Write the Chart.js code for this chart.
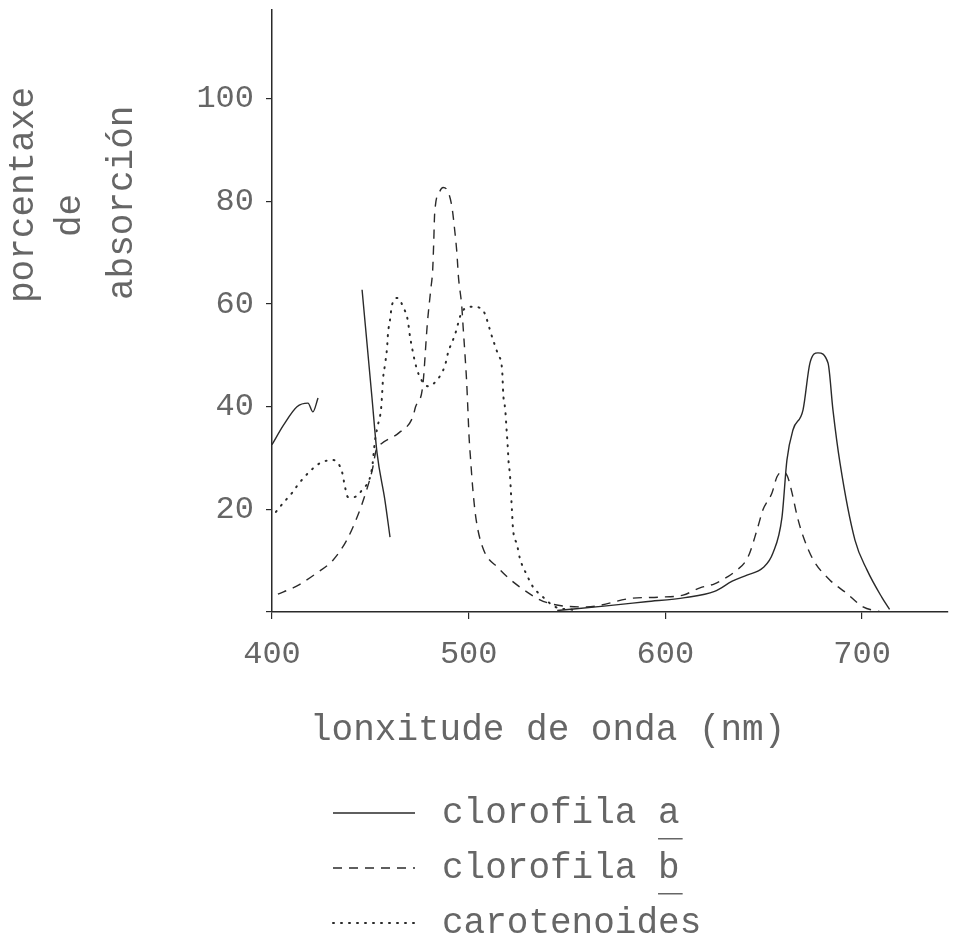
<!DOCTYPE html>
<html>
<head>
<meta charset="utf-8">
<script src="https://cdn.jsdelivr.net/npm/chart.js@4/dist/chart.umd.min.js"></script>
<style>
  html, body { margin: 0; padding: 0; background: #fff; }
  #wrap { width: 958px; height: 941px; }
</style>
</head>
<body>
<div id="wrap"><canvas id="c" width="958" height="941"></canvas></div>
<script>
// ---- data ----
const xTickValues = [400, 500, 600, 700];
const yTickValues = [0, 20, 40, 60, 80, 100];

const seriesLabels = ['clorofila a', 'clorofila b', 'carotenoides'];

const chlA_nm  = [400, 406, 412.7, 418.3, 420.8, 423.4, 435, 445.8, 450.8, 453.4, 457.4, 460, 470,
                  545, 570, 590, 610, 625, 634, 641.5, 649.6, 654.7, 659.3, 661.8, 664.9, 670, 673.5,
                  677.6, 682.7, 685.2, 688.8, 696.4, 702.5, 710, 714];
const chlA_abs = [32.6, 36.5, 40, 40.7, 39, 41.7, null, 62.8, 41.9, 31, 21.8, 14.6, null,
                  0.3, 1.2, 2, 2.8, 4, 6, 7.2, 8.6, 11.5, 18.5, 29.6, 35.5, 39.4, 48.5,
                  50.5, 48.5, 39.4, 29, 14, 8.2, 2.9, 0.5];

const chlB_nm  = [403, 410.7, 413.7, 422, 431, 438, 443.7, 447.8, 451, 453, 455, 464.5, 471.6, 473,
                  476.6, 479, 480.7, 481.7, 482.2, 482.7, 485, 487, 489.5, 491.5, 493, 494, 494.8,
                  496.5, 497.2, 498.2, 499, 499.6, 500.2, 501, 502, 503.6, 507, 515, 526.6, 540,
                  560, 583.5, 597, 609, 617.6, 625, 631.3, 634.4, 642, 646.6, 649.6, 654.2, 656.7,
                  659.3, 662, 664.4, 667, 670, 675, 683.7, 692, 700.5, 710];
const chlB_abs = [3.5, 4.7, 5.3, 7.4, 10.1, 14, 18.9, 23.4, 27.7, 31.6, 32.6, 34.9, 38, 40,
                  43.9, 56.3, 62.8, 66.7, 71.7, 77.6, 81.7, 82.7, 81.9, 78.9, 74, 70, 65.3,
                  59.5, 55.4, 49.7, 44.6, 39.4, 34.1, 29.6, 24.4, 18.5, 12.7, 8.6, 4.7, 1.8,
                  1, 2.7, 2.9, 3.3, 4.7, 5.5, 6.8, 7.6, 10.7, 16, 19.9, 23.2, 26.3,
                  27.3, 26.5, 23.2, 18.7, 14.8, 10.3, 6.2, 3.7, 1, 0];

const car_nm  = [402, 405.6, 410.2, 414.2, 424.4, 431, 435.6, 437.1, 438.6, 441.7, 445.8, 450.8,
                 452.4, 453.9, 455.4, 455.9, 456.4, 457.4, 458.5, 459, 460, 461, 464, 466.6, 469,
                 470.2, 471.2, 472.7, 474.7, 479.3, 483.9, 488, 489.5, 493, 496.6, 501.7, 506.8,
                 512.4, 515, 517, 517.6, 518.6, 519.2, 519.8, 520.3, 521, 521.5, 522, 522.5,
                 524.6, 526, 529.6, 532.7, 537.8, 544, 554];
const car_abs = [19.5, 21.2, 23.2, 25.3, 29, 29.6, 27.3, 24.4, 22.4, 22.4, 23.8, 27.9,
                 33.5, 36.5, 39.4, 41.9, 45.2, 48.1, 51.5, 54.4, 56.9, 59.8, 61.2, 59.5, 56.9,
                 53.6, 51.5, 48.7, 46.2, 44, 45.2, 48.1, 50.5, 54, 58.5, 59.5, 59,
                 53, 50.1, 47.2, 42.3, 39.4, 35.9, 32.6, 29.2, 26.7, 23.2, 19.9, 16.4,
                 13.1, 10.5, 7.2, 4.9, 2.9, 1, 0.4];

const yTitleLines = ['porcentaxe', 'de', 'absorción'];
const xTitleText = 'lonxitude de onda (nm)';

// ---- build ----
const toPts = (xs, ys) => xs.map((x, i) => ({ x: x, y: ys[i] }));
const INK = '#2a2a2a';
const TXT = '#666666';
const MONO = '"Liberation Mono", "DejaVu Sans Mono", monospace';

const textPlugin = {
  id: 'typewriterText',
  afterDraw(chart) {
    const ctx = chart.ctx;
    ctx.save();
    ctx.fillStyle = TXT;
    ctx.font = '36px ' + MONO;
    ctx.textAlign = 'left';
    ctx.textBaseline = 'alphabetic';

    // rotated y title (three typed lines)
    const cols = [{ x: 33, y: 303 }, { x: 80, y: 237 }, { x: 132, y: 300 }];
    yTitleLines.forEach((t, i) => {
      ctx.save();
      ctx.translate(cols[i].x, cols[i].y);
      ctx.rotate(-Math.PI / 2);
      ctx.fillText(t, 0, 0);
      ctx.restore();
    });

    // x title
    ctx.fillText(xTitleText, 310, 740);

    // legend
    const rows = [813, 868, 923];
    chart.data.datasets.forEach((ds, i) => {
      const y = rows[i];
      ctx.save();
      ctx.strokeStyle = INK;
      ctx.lineWidth = i === 2 ? 2 : 1.4;
      ctx.lineCap = i === 2 ? 'round' : 'butt';
      ctx.setLineDash(ds.borderDash || []);
      ctx.beginPath();
      ctx.moveTo(333, y);
      ctx.lineTo(415, y);
      ctx.stroke();
      ctx.restore();
      ctx.fillText(ds.label, 442, y + 10);
      if (i < 2) {
        const cw = ctx.measureText('c').width;
        const ux = 442 + cw * 10;
        ctx.fillRect(ux, y + 25, cw + 3, 1.5);
      }
    });
    ctx.restore();
  }
};

new Chart(document.getElementById('c'), {
  type: 'line',
  data: {
    datasets: [
      { label: seriesLabels[0], data: toPts(chlA_nm, chlA_abs), borderColor: INK, borderWidth: 1.4,
        borderDash: [], pointRadius: 0, spanGaps: false, cubicInterpolationMode: 'monotone', fill: false },
      { label: seriesLabels[1], data: toPts(chlB_nm, chlB_abs), borderColor: INK, borderWidth: 1.4,
        borderDash: [9, 7], pointRadius: 0, spanGaps: false, cubicInterpolationMode: 'monotone', fill: false },
      { label: seriesLabels[2], data: toPts(car_nm, car_abs), borderColor: INK, borderWidth: 2,
        borderDash: [1, 7], borderCapStyle: 'round', pointRadius: 0, cubicInterpolationMode: 'monotone', fill: false }
    ]
  },
  options: {
    responsive: false,
    animation: false,
    devicePixelRatio: 1,
    layout: { padding: { left: 0, right: 10, top: 10, bottom: 0 } },
    plugins: { legend: { display: false }, tooltip: { enabled: false }, title: { display: false } },
    scales: {
      x: {
        type: 'linear', min: 400, max: 743.7,
        afterBuildTicks: (s) => { s.ticks = xTickValues.map(v => ({ value: v })); },
        afterFit: (s) => { s.height = 329; s.paddingLeft = 0; s.paddingRight = 0; },
        ticks: { color: TXT, font: { family: MONO, size: 32 }, padding: 16, maxRotation: 0,
                 callback: (v) => String(v) },
        grid: { display: true, drawOnChartArea: false, drawTicks: true, tickLength: 7, color: INK, lineWidth: 1.2 },
        border: { display: true, color: INK, width: 1.5 }
      },
      y: {
        type: 'linear', min: 0, max: 117.3,
        afterBuildTicks: (s) => { s.ticks = yTickValues.map(v => ({ value: v })); },
        afterFit: (s) => { s.width = 272; s.paddingTop = 0; s.paddingBottom = 0; },
        ticks: { color: TXT, font: { family: MONO, size: 32 }, padding: 12,
                 callback: (v) => (v === 0 ? '' : String(v)) },
        grid: { display: true, drawOnChartArea: false, drawTicks: true, tickLength: 6, color: INK, lineWidth: 1.2 },
        border: { display: true, color: INK, width: 1.5 }
      }
    }
  },
  plugins: [textPlugin]
});
</script>
</body>
</html>
